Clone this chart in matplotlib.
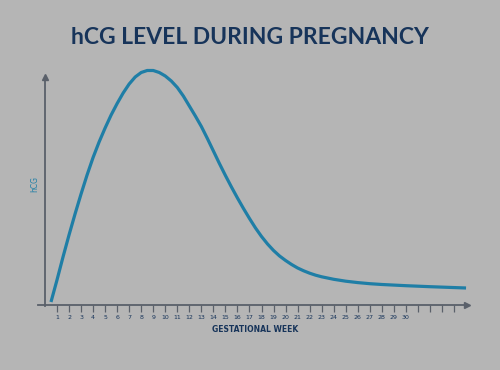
import numpy as np
import matplotlib
matplotlib.use("Agg")
import matplotlib.pyplot as plt

# values (arbitrary hCG units)
weeks = [0.5, 1, 1.5, 2, 2.5, 3, 3.5, 4, 4.5, 5, 5.5, 6, 6.5, 7, 7.5, 8, 8.5,
         9, 9.5, 10, 10.5, 11, 11.5, 12, 12.5, 13, 13.5, 14, 14.5, 15, 15.5,
         16, 16.5, 17, 17.5, 18, 18.5, 19, 19.5, 20, 20.5, 21, 21.5, 22, 22.5,
         23, 24, 25, 26, 27, 28, 30, 32, 35]
hcg = [3, 25, 48, 70, 91, 111, 130, 147.5, 163, 177, 190, 201.5, 212, 221,
       228, 232.5, 234.5, 234.5, 232.5, 229, 224, 217.5, 209, 199, 189, 178.5,
       166.5, 154, 141.5, 129.5, 118, 107, 96.5, 86.5, 77, 68.5, 61, 54.5, 49,
       44.5, 40.5, 37, 34.2, 31.8, 29.8, 28.2, 25.7, 23.8, 22.4, 21.3, 20.5,
       19.3, 18.3, 17]
tick_weeks = list(range(1, 35))
tick_labels = [str(w) if w <= 30 else "" for w in tick_weeks]

bg = "#b5b5b5"
navy = "#17345a"
blue = "#1f7ea6"
axis_col = "#5a606a"

fig = plt.figure(figsize=(5, 3.7), dpi=100, facecolor=bg)
ax = fig.add_axes([0.088, 0.1757, 0.846, 0.64])
ax.set_facecolor(bg)
ax.set_xlim(-0.08, 35.08)
ax.set_ylim(0, 236.8)

ax.plot(weeks, hcg, color=blue, lw=2.3, solid_capstyle="butt",
        solid_joinstyle="round", zorder=3)

for s in ax.spines.values():
    s.set_visible(False)

# axes drawn by hand with arrow heads
ax.plot([-0.6, 35.08], [0, 0], color=axis_col, lw=1.3, clip_on=False)
ax.plot([35.08], [0], marker=">", color=axis_col, ms=4, clip_on=False)
ax.plot([0, 0], [-1, 228], color=axis_col, lw=1.3, clip_on=False)
ax.plot([0], [228], marker="^", color=axis_col, ms=4, clip_on=False)

ax.set_xticks(tick_weeks)
ax.set_xticklabels(tick_labels)
ax.tick_params(axis="x", direction="out", length=5, width=0.9, color=axis_col,
               labelsize=4.5, labelcolor=navy, pad=2)
ax.set_yticks([])

ax.set_xlabel("GESTATIONAL WEEK", fontsize=5.5, fontweight="bold", color=navy,
              labelpad=4)
ax.set_ylabel("hCG", fontsize=5.5, color=blue)
ax.yaxis.set_label_coords(-0.012, 0.51)

fig.text(0.5, 0.9, "hCG LEVEL DURING PREGNANCY", ha="center", va="center",
         fontsize=16.5, fontweight="bold", color=navy, family="Lato")

fig.savefig("out.png", dpi=100, facecolor=bg)
